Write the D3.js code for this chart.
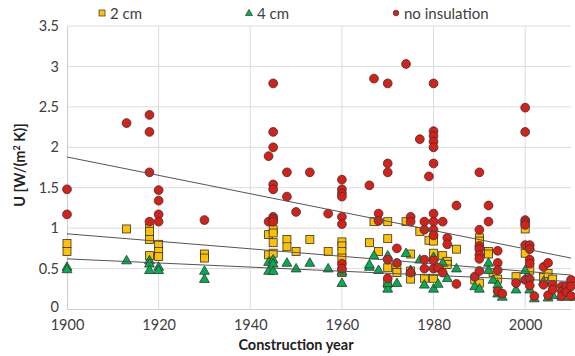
<!DOCTYPE html>
<html><head><meta charset="utf-8">
<script src="https://cdn.jsdelivr.net/npm/d3@7"></script>
<style>body{margin:0;background:#fff}svg{display:block}text{font-family:Lato,"Open Sans",sans-serif}</style>
</head><body><svg id="c" width="575" height="356"></svg>
<script>
const xTicks = [1900, 1920, 1940, 1960, 1980, 2000];
const yTicks = [0, 0.5, 1, 1.5, 2, 2.5, 3, 3.5];
const seriesNames = ["2 cm", "4 cm", "no insulation"];

// [year, U]
const noInsulation = [
 [1900,1.48],[1900,1.17],[1913,2.30],[1918,2.40],[1918,2.19],[1918,1.69],[1918,1.08],
 [1920,1.47],[1920,1.34],[1920,1.17],[1920,1.08],[1930,1.10],[1944,1.89],[1944,1.08],
 [1945,2.79],[1945,2.19],[1945,2.0],[1945,1.54],[1945,1.48],[1945,1.14],[1945,1.11],[1945,1.08],
 [1948,1.69],[1948,1.39],[1950,1.2],[1953,1.69],[1957,1.18],
 [1960,1.60],[1960,1.48],[1960,1.43],[1960,1.39],[1960,1.14],[1960,1.05],[1960,0.56],[1960,0.5],
 [1966,1.53],[1967,2.85],[1968,1.18],[1968,1.09],
 [1970,2.79],[1970,1.80],[1970,1.69],[1970,0.61],[1970,0.38],[1972,0.75],[1972,0.57],[1974,3.03],
 [1975,1.14],[1975,1.08],[1975,0.45],[1977,2.10],[1978,1.08],[1978,0.98],[1978,0.61],[1978,0.5],[1979,1.64],
 [1980,2.79],[1980,2.2],[1980,2.14],[1980,2.07],[1980,2.0],[1980,1.80],[1980,1.18],[1980,1.08],[1980,0.98],[1980,0.91],[1980,0.6],[1980,0.5],
 [1981,0.51],[1982,1.08],[1982,0.45],[1983,0.88],[1983,0.8],[1985,1.28],[1985,0.31],[1989,0.40],
 [1990,1.69],[1990,0.98],[1990,0.78],[1990,0.74],[1990,0.67],[1990,0.62],[1990,0.47],
 [1992,1.28],[1992,1.08],[1994,0.72],[1994,0.57],[1994,0.48],[1994,0.22],[1995,0.19],[1998,0.32],
 [2000,2.49],[2000,2.19],[2000,1.10],[2000,1.07],[2000,1.04],[2000,0.79],[2000,0.36],
 [2001,0.79],[2001,0.74],[2001,0.61],[2001,0.56],[2001,0.37],[2001,0.29],[2002,0.16],
 [2004,0.52],[2004,0.30],[2005,0.57],[2005,0.17],[2006,0.30],[2006,0.24],
 [2008,0.28],[2008,0.22],[2008,0.16],[2009,0.28],[2009,0.21],[2010,0.36],[2010,0.28],[2010,0.16]
];
const cm2 = [
 [1900,0.81],[1900,0.71],[1913,0.99],[1918,1.0],[1918,0.96],[1918,0.86],[1918,0.66],
 [1920,0.8],[1920,0.71],[1920,0.65],[1930,0.68],[1930,0.63],[1944,0.92],[1944,0.67],
 [1945,0.98],[1945,0.94],[1945,0.82],[1945,0.69],[1948,0.86],[1948,0.77],[1950,0.71],[1953,0.86],[1957,0.71],
 [1960,0.83],[1960,0.78],[1960,0.71],[1960,0.63],[1960,0.45],[1966,0.82],[1967,1.08],[1968,0.71],
 [1970,1.08],[1970,0.87],[1970,0.51],[1970,0.31],[1972,0.50],[1972,0.45],[1974,1.08],
 [1975,0.68],[1975,0.47],[1975,0.37],[1977,0.96],[1978,0.38],[1979,0.85],
 [1980,0.88],[1980,0.84],[1980,0.69],[1980,0.38],[1982,0.66],[1983,0.59],[1983,0.55],[1985,0.74],[1989,0.36],
 [1990,0.88],[1990,0.84],[1990,0.32],[1992,0.71],[1992,0.68],[1993,0.45],[1994,0.37],[1998,0.40],
 [2000,0.99],[2000,0.69],[2001,0.48],[2004,0.39],[2005,0.44],[2006,0.37]
];
const cm4 = [
 [1900,0.52],[1900,0.49],[1913,0.60],[1918,0.60],[1918,0.56],[1918,0.48],[1920,0.52],[1920,0.48],
 [1930,0.47],[1930,0.37],[1944,0.58],[1944,0.47],[1945,0.61],[1945,0.56],[1945,0.47],
 [1948,0.57],[1950,0.50],[1953,0.57],[1957,0.50],[1960,0.46],[1960,0.32],
 [1966,0.52],[1966,0.55],[1967,0.66],[1968,0.48],[1970,0.66],[1970,0.25],[1970,0.32],[1972,0.32],
 [1974,0.69],[1975,0.48],[1975,0.46],[1977,0.61],[1978,0.30],[1980,0.64],[1980,0.25],[1981,0.31],
 [1982,0.57],[1983,0.38],[1985,0.50],[1989,0.28],[1990,0.25],[1992,0.57],[1992,0.48],[1993,0.36],
 [1994,0.30],[1994,0.19],[1995,0.15],[1998,0.24],[2000,0.48],[2000,0.37],[2001,0.24],[2002,0.13],
 [2004,0.34],[2005,0.14],[2006,0.17],[2008,0.15],[2010,0.15]
];
// trend lines: [year, U] endpoints
const trendNone = [[1900,1.88],[2010,0.63]];
const trend2 = [[1900,0.93],[2010,0.42]];
const trend4 = [[1900,0.62],[2010,0.34]];

const svg = d3.select("#c");
const x = d3.scaleLinear().domain([1900, 2010]).range([67, 571]);
const y = d3.scaleLinear().domain([0, 3.5]).range([309, 26]);
const tc = "#404040";

// grid
svg.append("g").selectAll("line").data(yTicks.slice(1)).join("line")
  .attr("x1", x(1900)).attr("x2", x(2010)).attr("y1", d=>y(d)).attr("y2", d=>y(d))
  .attr("stroke", "#dcdcdc").attr("stroke-width", 1);
svg.append("g").selectAll("line").data(xTicks.slice(1)).join("line")
  .attr("x1", d=>x(d)).attr("x2", d=>x(d)).attr("y1", y(0)).attr("y2", y(3.5))
  .attr("stroke", "#dcdcdc").attr("stroke-width", 1);

// axes
const yAxis = svg.append("g").attr("transform", `translate(${x(1900)},0)`)
  .call(d3.axisLeft(y).tickValues(yTicks).tickSize(0).tickPadding(8).tickFormat(d3.format("")));
const xAxis = svg.append("g").attr("transform", `translate(0,${y(0)})`)
  .call(d3.axisBottom(x).tickValues(xTicks).tickSize(0).tickPadding(11).tickFormat(d3.format("d")));
[xAxis, yAxis].forEach(a => {
  a.select(".domain").attr("stroke", "#d0d0d0").attr("stroke-width", 1.2);
  a.selectAll("text").attr("font-size", 14.5).attr("fill", tc).attr("font-family", "Lato, sans-serif");
});
yAxis.selectAll(".tick").filter(d => d === 0).select("text").attr("dy", "0.2em");

// points
const stroke = "#333";
svg.append("g").selectAll("rect").data(cm2).join("rect")
  .attr("x", d=>x(d[0])-4).attr("y", d=>y(d[1])-4).attr("width", 8).attr("height", 8)
  .attr("fill", "#ffc000").attr("stroke", stroke).attr("stroke-width", 0.8);
const tri = d3.symbol().type(d3.symbolTriangle).size(42);
svg.append("g").selectAll("path").data(cm4).join("path")
  .attr("d", tri).attr("transform", d=>`translate(${x(d[0])},${y(d[1])+0.5})`)
  .attr("fill", "#00b050").attr("stroke", stroke).attr("stroke-width", 0.8);
svg.append("g").selectAll("circle").data(noInsulation).join("circle")
  .attr("cx", d=>x(d[0])).attr("cy", d=>y(d[1])).attr("r", 4.4)
  .attr("fill", "#d81f18").attr("stroke", stroke).attr("stroke-width", 0.8);

// trend lines
const line = d3.line().x(d=>x(d[0])).y(d=>y(d[1]));
[trendNone, trend2, trend4].forEach(t => {
  svg.append("path").attr("d", line(t)).attr("fill", "none").attr("stroke", "#555").attr("stroke-width", 1);
});

// legend
const lg = svg.append("g");
const legX = [102, 249, 396];
lg.append("rect").attr("x", legX[0]-3).attr("y", 10).attr("width", 6).attr("height", 6)
  .attr("fill", "#ffc000").attr("stroke", stroke).attr("stroke-width", 0.7);
lg.append("path").attr("d", d3.symbol().type(d3.symbolTriangle).size(22)).attr("transform", `translate(${legX[1]},13.5)`)
  .attr("fill", "#00b050").attr("stroke", stroke).attr("stroke-width", 0.7);
lg.append("circle").attr("cx", legX[2]).attr("cy", 13).attr("r", 2.8)
  .attr("fill", "#d81f18").attr("stroke", stroke).attr("stroke-width", 0.7);
lg.selectAll("text").data(seriesNames).join("text")
  .attr("x", (d,i)=>legX[i]+8).attr("y", 18.5).attr("font-size", 15).attr("fill", tc).text(d=>d);

// axis titles
svg.append("text").attr("x", 296).attr("y", 350).attr("text-anchor", "middle")
  .attr("font-size", 14.5).attr("font-weight", "bold").attr("fill", "#222").text("Construction year");
const yt = svg.append("text").attr("transform", "translate(25,165) rotate(-90)").attr("text-anchor", "middle")
  .attr("font-size", 14.5).attr("font-weight", "bold").attr("fill", "#222");
yt.append("tspan").text("U [W/(m");
yt.append("tspan").attr("font-size", 9).attr("dy", -5).text("2");
yt.append("tspan").attr("dy", 5).text(" K)]");
</script></body></html>
